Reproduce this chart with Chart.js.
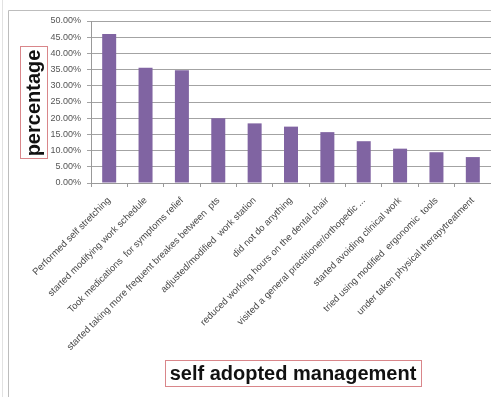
<!DOCTYPE html>
<html>
<head>
<meta charset="utf-8">
<script src="https://cdn.jsdelivr.net/npm/chart.js@4/dist/chart.umd.min.js"></script>
<style>
html,body{margin:0;padding:0;background:#fff;}
#wrap{position:relative;width:491px;height:397px;}
</style>
</head>
<body>
<div id="wrap"><canvas id="c" width="491" height="397"></canvas></div>
<script>
const categories = [
  "Performed self stretching",
  "started modifying work schedule",
  "Took medications  for symptoms relief",
  "started taking more frequent breakes between  pts",
  "adjusted/modified  work station",
  "did not do anything",
  "reduced working hours on the dental chair",
  "visited a general practitioner/orthopedic ...",
  "started avoiding clinical work",
  "tried using modified  ergonomic  tools",
  "under taken physical therapytreatment"
];
const percentages = [46.0, 35.6, 34.8, 20.0, 18.4, 17.4, 15.7, 12.9, 10.6, 9.5, 8.0];
const yTitle = "percentage";
const xTitle = "self adopted management";
const yMax = 50;
const yStep = 5;

const framePlugin = {
  id: 'frame',
  beforeDraw(chart) {
    const ctx = chart.ctx;
    ctx.save();
    ctx.strokeStyle = '#e2e2e2';
    ctx.lineWidth = 1;
    ctx.beginPath(); ctx.moveTo(2.5, 0); ctx.lineTo(2.5, 397); ctx.stroke();
    ctx.strokeStyle = '#bdbdbd';
    ctx.beginPath();
    ctx.moveTo(8.5, 397); ctx.lineTo(8.5, 10.5); ctx.lineTo(491, 10.5);
    ctx.stroke();
    ctx.restore();
  },
  afterDraw(chart) {
    const ctx = chart.ctx;
    ctx.save();
    ctx.font = 'bold 20px "Liberation Sans", Arial, sans-serif';
    ctx.fillStyle = '#111';
    ctx.textAlign = 'center';
    ctx.textBaseline = 'middle';
    const yc = 103, xc = 34;
    ctx.save();
    ctx.translate(xc, yc);
    ctx.rotate(-Math.PI / 2);
    ctx.fillText(yTitle, 0, 0);
    ctx.restore();
    ctx.strokeStyle = '#d9868a';
    ctx.lineWidth = 1;
    ctx.strokeRect(20.5, 46.5, 27, 112);
    ctx.fillText(xTitle, 293, 374);
    ctx.strokeRect(165.5, 360.5, 256, 26);
    ctx.restore();
  }
};

new Chart(document.getElementById('c'), {
  type: 'bar',
  data: {
    labels: categories,
    datasets: [{
      data: percentages,
      backgroundColor: '#8064A2',
      borderWidth: 0,
      barPercentage: 0.385,
      categoryPercentage: 1.0
    }]
  },
  plugins: [framePlugin],
  options: {
    responsive: false,
    animation: false,
    devicePixelRatio: 1,
    layout: { padding: { top: 21, right: 0, bottom: 0, left: 0 } },
    plugins: { legend: { display: false }, tooltip: { enabled: false } },
    scales: {
      x: {
        grid: { drawOnChartArea: false, drawTicks: true, tickLength: 4, offset: true, color: '#999' },
        border: { color: '#999' },
        ticks: {
          autoSkip: false, maxRotation: 45, minRotation: 45,
          color: '#4a4a4a', padding: 8,
          font: { family: '"Liberation Sans", Arial, sans-serif', size: 9.5 }
        },
        afterFit(s) { s.height = 214; s.paddingLeft = 0; s.paddingRight = 0; }
      },
      y: {
        min: 0, max: yMax,
        grid: { color: '#a3a3a3', lineWidth: 1, tickLength: 4 },
        border: { color: '#999' },
        ticks: {
          stepSize: yStep, padding: 6, color: '#555',
          font: { family: '"Liberation Sans", Arial, sans-serif', size: 9 },
          callback: v => v.toFixed(2) + '%'
        },
        afterFit(s) { s.width = 91; }
      }
    }
  }
});
</script>
</body>
</html>
